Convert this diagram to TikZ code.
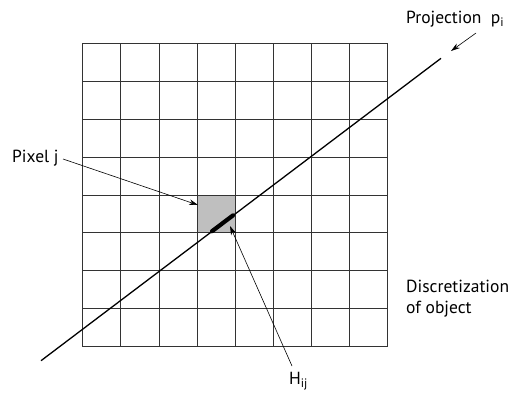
\documentclass[tikz,border=0pt]{standalone}
\usepackage{fontspec}
\setmainfont{PT Sans}
\usetikzlibrary{arrows.meta}
\begin{document}
\begin{tikzpicture}[x=1pt,y=-1pt,
  gridline/.style={draw=black!80,line width=0.9pt},
  proj/.style={draw=black,line width=1.3pt},
  pointer/.style={draw=black,line width=0.6pt,-{Stealth[length=9pt,width=5.5pt]}},
  lbl/.style={font=\fontsize{17.5}{20}\selectfont,inner sep=0pt}]
\useasboundingbox (0,0) rectangle (511,392);
% shaded pixel
\fill[black!25] (196.9,194.9) rectangle (235.0,232.8);
% grid
\foreach \i in {0,...,8}{
  \draw[gridline] ({82.7+\i*38.125},43.3) -- ({82.7+\i*38.125},346.7);
  \draw[gridline] (82.7,{43.3+\i*37.925}) -- (387.7,{43.3+\i*37.925});
}
% projection line
\coordinate (pa) at (41,360.7);
\coordinate (pb) at (441,58.3);
\draw[proj] (pa) -- (pb);
% intersection segment
\coordinate (ha) at (212,231.2);
\coordinate (hb) at (233,215.4);
\draw[line width=4.2pt,line cap=round] (ha) -- (hb);
% labels
\node[lbl,anchor=west] (projl) at (406,19) {Projection\ \ p\textsubscript{i}};
\node[lbl,anchor=west] (pixl) at (12,158) {Pixel j};
\node[lbl,anchor=west] (disc) at (406,286) {Discretization};
\node[lbl,anchor=west] (obj) at (406,309) {of object};
\node[lbl,anchor=west] (hl) at (289,381) {H\textsubscript{ij}};
% pointers
\coordinate (pjs) at (63,159);
\coordinate (pjt) at (198,205);
\draw[pointer] (pjs) -- (pjt);
\coordinate (prs) at (476,33);
\coordinate (prt) at (451,51);
\draw[pointer] (prs) -- (prt);
\coordinate (hs) at (292,366);
\coordinate (ht) at (230,226);
\draw[pointer] (hs) -- (ht);
\end{tikzpicture}
\end{document}
